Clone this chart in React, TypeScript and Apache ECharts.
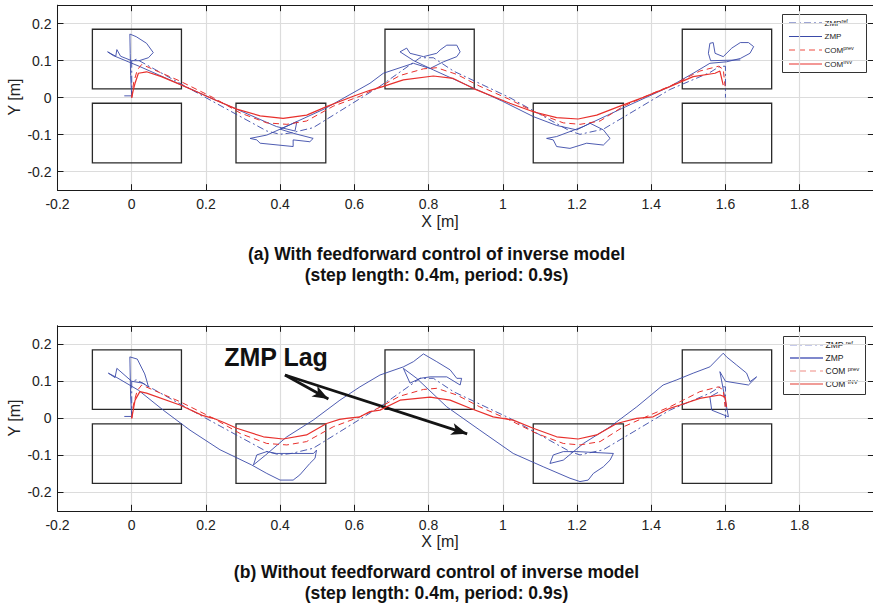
import React, { useEffect, useRef } from 'react';
import * as echarts from 'echarts';

const FONT = "'Liberation Sans', Arial, Helvetica, sans-serif";

// ---- axes ----
const X_MIN = -0.2;
const X_MAX = 2.0;
const X_STEP = 0.2;
const Y_MIN = -0.25;
const Y_MAX = 0.25;

// ---- foot rectangles [x1, x2] and y-bands ----
const footXs = [
  [-0.106, 0.134],
  [0.281, 0.523],
  [0.6825, 0.923],
  [1.082, 1.325],
  [1.4836, 1.7245],
];
const upperBand = [0.024, 0.185];
const lowerBand = [-0.176, -0.015];
// which footprints exist: [footIndex, band]
const footPrints: [number, 'u' | 'l'][] = [
  [0, 'u'], [0, 'l'], [1, 'l'], [2, 'u'], [3, 'l'], [4, 'u'], [4, 'l'],
];

// ---- shared reference trajectories ----
const zmpRef = [
  [0.0, 0.0], [0.0, 0.1], [0.013, 0.104], [0.2, 0.0], [0.364, -0.09], [0.4, -0.099],
  [0.43, -0.095], [0.489, -0.081], [0.669, 0.031], [0.777, 0.108], [0.813, 0.108],
  [0.867, 0.072], [1.019, 0.0], [1.181, -0.09], [1.208, -0.099], [1.271, -0.085],
  [1.45, 0.022], [1.558, 0.068], [1.585, 0.085], [1.6, 0.085], [1.6, 0.0],
];

const comPrev = [
  [0.0, 0.0], [0.005, 0.04], [0.015, 0.075], [0.027, 0.09], [0.13, 0.045], [0.22, 0.0],
  [0.292, -0.041], [0.364, -0.068], [0.418, -0.072], [0.471, -0.063], [0.543, -0.023],
  [0.615, 0.004], [0.669, 0.03], [0.723, 0.06], [0.786, 0.078], [0.822, 0.081],
  [0.876, 0.063], [0.938, 0.031], [1.019, -0.005], [1.091, -0.041], [1.163, -0.068],
  [1.208, -0.072], [1.262, -0.063], [1.325, -0.023], [1.397, 0.009], [1.45, 0.031],
  [1.478, 0.045], [1.531, 0.072], [1.581, 0.085], [1.594, 0.077], [1.599, 0.031],
];

// ---- (a) with feedforward ----
const comInvA = [
  [0.0, 0.0], [0.004, 0.02], [0.009, 0.039], [0.018, 0.066], [0.04, 0.07], [0.08, 0.057],
  [0.13, 0.036], [0.18, 0.014], [0.22, -0.004], [0.283, -0.031], [0.346, -0.049],
  [0.408, -0.056], [0.4715, -0.047], [0.525, -0.024], [0.597, 0.004], [0.642, 0.02],
  [0.67, 0.028], [0.732, 0.048], [0.8127, 0.0586], [0.8666, 0.052], [0.9296, 0.021],
  [1.019, -0.015], [1.082, -0.038], [1.145, -0.054], [1.203, -0.0576], [1.253, -0.047],
  [1.307, -0.026], [1.3786, 0.001], [1.45, 0.03], [1.513, 0.057], [1.572, 0.066],
  [1.585, 0.072], [1.594, 0.034],
];

const zmpA = [
  [-0.02, 0.005], [0.0, 0.005], [-0.003, 0.06], [-0.004, 0.12], [-0.005, 0.172],
  [0.012, 0.165], [0.04, 0.147], [0.058, 0.122], [0.045, 0.108], [0.02, 0.1], [0.0, 0.1],
  [-0.03, 0.112], [-0.04, 0.13], [-0.043, 0.112], [-0.065, 0.124], [-0.05, 0.114],
  [0.02, 0.085], [0.2, 0.005], [0.39, -0.078], [0.44, -0.09], [0.445, -0.065],
  [0.364, -0.101], [0.319, -0.11], [0.337, -0.114], [0.346, -0.123], [0.435, -0.132],
  [0.435, -0.114], [0.48, -0.119], [0.489, -0.11], [0.435, -0.096], [0.4, -0.085],
  [0.52, -0.03], [0.642, 0.039], [0.678, 0.066], [0.759, 0.093], [0.804, 0.079],
  [0.84, 0.097], [0.876, 0.111], [0.885, 0.124], [0.876, 0.142], [0.849, 0.142],
  [0.831, 0.129], [0.822, 0.12], [0.786, 0.111], [0.75, 0.12], [0.741, 0.134],
  [0.723, 0.124], [0.76, 0.1], [0.813, 0.075], [1.0, -0.01], [1.082, -0.051],
  [1.145, -0.075], [1.199, -0.087], [1.235, -0.069], [1.271, -0.087], [1.289, -0.11],
  [1.271, -0.128], [1.226, -0.123], [1.181, -0.137], [1.145, -0.132], [1.136, -0.114],
  [1.118, -0.11], [1.145, -0.105], [1.217, -0.078], [1.33, -0.025], [1.45, 0.03],
  [1.513, 0.066], [1.558, 0.093], [1.603, 0.097], [1.64, 0.106], [1.666, 0.12],
  [1.676, 0.138], [1.662, 0.149], [1.64, 0.149], [1.617, 0.134], [1.594, 0.111],
  [1.572, 0.12], [1.567, 0.149], [1.558, 0.147], [1.554, 0.12], [1.56, 0.1], [1.64, 0.102],
];

// ---- (b) without feedforward ----
const comInvB = [
  [0.0, 0.0], [0.009, 0.049], [0.022, 0.072], [0.04, 0.068], [0.13, 0.036], [0.19, 0.008],
  [0.22, 0.0], [0.25, -0.012], [0.283, -0.027], [0.355, -0.05], [0.408, -0.056],
  [0.471, -0.045], [0.525, -0.014], [0.56, -0.003], [0.579, 0.0], [0.615, 0.004],
  [0.642, 0.018], [0.669, 0.022], [0.723, 0.049], [0.804, 0.057], [0.858, 0.049],
  [0.912, 0.027], [0.974, 0.004], [1.028, -0.005], [1.082, -0.027], [1.145, -0.05],
  [1.203, -0.056], [1.253, -0.045], [1.307, -0.014], [1.361, 0.0], [1.405, 0.004],
  [1.45, 0.027], [1.478, 0.036], [1.531, 0.054], [1.585, 0.063], [1.599, 0.058],
  [1.603, 0.031],
];

const zmpB = [
  [-0.02, 0.005], [0.0, 0.005], [-0.003, 0.06], [-0.005, 0.166], [0.015, 0.16],
  [0.035, 0.12], [0.04, 0.1035], [0.045, 0.085], [0.03, 0.095], [0.0, 0.1], [-0.04, 0.135],
  [-0.045, 0.11], [-0.063, 0.122], [-0.04, 0.11], [0.018, 0.076], [0.085, 0.022],
  [0.157, -0.032], [0.238, -0.085], [0.323, -0.126], [0.364, -0.149], [0.4, -0.167],
  [0.435, -0.167], [0.453, -0.153], [0.48, -0.122], [0.494, -0.108], [0.498, -0.086],
  [0.49, -0.095], [0.39, -0.095], [0.364, -0.09], [0.337, -0.099], [0.328, -0.126],
  [0.36, -0.1], [0.418, -0.05], [0.489, -0.005], [0.561, 0.049], [0.615, 0.085],
  [0.669, 0.117], [0.732, 0.139], [0.759, 0.153], [0.786, 0.174], [0.822, 0.153],
  [0.858, 0.131], [0.876, 0.108], [0.889, 0.108], [0.885, 0.09], [0.849, 0.112],
  [0.804, 0.112], [0.777, 0.108], [0.75, 0.095], [0.732, 0.135], [0.768, 0.108],
  [0.849, 0.031], [0.938, -0.032], [1.028, -0.095], [1.109, -0.131], [1.181, -0.162],
  [1.208, -0.171], [1.23, -0.167], [1.244, -0.149], [1.271, -0.131], [1.289, -0.113],
  [1.298, -0.095], [1.2, -0.09], [1.163, -0.09], [1.136, -0.099], [1.127, -0.122],
  [1.163, -0.113], [1.217, -0.068], [1.289, -0.023], [1.361, 0.031], [1.432, 0.09],
  [1.469, 0.104], [1.513, 0.122], [1.558, 0.139], [1.594, 0.176], [1.603, 0.166],
  [1.63, 0.144], [1.657, 0.122], [1.666, 0.099], [1.684, 0.112], [1.662, 0.09],
  [1.6, 0.1], [1.585, 0.126], [1.608, 0.004], [1.563, 0.022], [1.558, 0.058], [1.58, 0.07],
];

// ---- annotation arrows (data coords, panel b) ----
const lagArrows = [
  [[0.413, 0.117], [0.53, 0.052]],
  [[0.413, 0.117], [0.904, -0.042]],
];

const legendLabelsA = ['ZMP{s|ref}', 'ZMP', 'COM{s|prev}', 'COM{s|INV}'];
const legendLabelsB = ['ZMP {s|ref}', 'ZMP', 'COM {s|prev}', 'COM {s|INV}'];

const titlesA = ['(a) With feedforward control of inverse model', '(step length: 0.4m, period: 0.9s)'];
const titlesB = ['(b) Without feedforward control of inverse model', '(step length: 0.4m, period: 0.9s)'];

const BLUE = '#3a4aa8';
const RED = '#e8302c';
const DASHDOT = [7, 3, 2, 3];
const DASH = [6, 4];

const grids = [
  { left: 57.5, top: 5.2, width: 816.4, height: 185 },
  { left: 57.5, top: 325.8, width: 816.4, height: 185 },
];

function xAxes(gi: number) {
  const base = {
    type: 'value', gridIndex: gi, min: X_MIN, max: X_MAX, interval: X_STEP,
    axisLine: { show: true, onZero: false, lineStyle: { color: '#1a1a1a', width: 1 } },
    axisTick: { show: true, inside: true, length: 6, lineStyle: { color: '#1a1a1a', width: 1 } },
  };
  return [
    {
      ...base, position: 'bottom',
      axisLabel: {
        show: true, color: '#222', fontSize: 14, fontFamily: FONT, margin: 7,
        showMaxLabel: false,
        formatter: (v: number) => (v > 1.9 ? '' : String(Math.round(v * 10) / 10)),
      },
      splitLine: { show: true, lineStyle: { color: '#dcdcdc', width: 1.2 } },
    },
    { ...base, position: 'top', axisLabel: { show: false }, splitLine: { show: false } },
  ];
}

function yAxes(gi: number) {
  const base = {
    type: 'value', gridIndex: gi, min: Y_MIN, max: Y_MAX, splitNumber: 5,
    axisLine: { show: true, onZero: false, lineStyle: { color: '#1a1a1a', width: 1 } },
    axisTick: { show: true, inside: true, length: 6, lineStyle: { color: '#1a1a1a', width: 1 } },
  };
  return [
    {
      ...base, position: 'left',
      axisLabel: {
        show: true, color: '#222', fontSize: 14, fontFamily: FONT, margin: 6,
        showMinLabel: false, showMaxLabel: false,
        formatter: (v: number) => (Math.abs(v) > 0.21 ? '' : String(Math.round(v * 10) / 10)),
      },
      splitLine: { show: true, lineStyle: { color: '#dcdcdc', width: 1.2 } },
    },
    { ...base, position: 'right', axisLabel: { show: false }, splitLine: { show: false } },
  ];
}

function line(name: string, data: number[][], gi: number, color: string, width: number, type: any, z: number) {
  return {
    name, type: 'line', xAxisIndex: gi * 2, yAxisIndex: gi * 2, data,
    showSymbol: false, symbol: 'none', smooth: false, clip: true, silent: true,
    lineStyle: { color, width, type }, itemStyle: { color }, z,
  };
}

function footAreas() {
  return footPrints.map(([fi, band]) => {
    const [x1, x2] = footXs[fi];
    const [y1, y2] = band === 'u' ? upperBand : lowerBand;
    return [{ coord: [x1, y1] }, { coord: [x2, y2] }];
  });
}

function panelSeries(gi: number, prefix: string, zmp: number[][], comInv: number[][]) {
  const s: any[] = [
    line(prefix + ' ZMP ref', zmpRef, gi, BLUE, 0.9, DASHDOT, 3),
    line(prefix + ' ZMP', zmp, gi, BLUE, 0.9, 'solid', 4),
    line(prefix + ' COM prev', comPrev, gi, RED, 1, DASH, 5),
    line(prefix + ' COM INV', comInv, gi, RED, 1.2, 'solid', 6),
  ];
  s[3].markArea = {
    silent: true,
    label: { show: false },
    itemStyle: { color: 'rgba(0,0,0,0)', borderColor: '#2a2a2a', borderWidth: 1.3 },
    data: footAreas(),
  };
  return s;
}

// legend drawn as a graphic group so that line styles and superscripts match
function legendGroup(labels: string[], box: number[], rows: number[], fontSize: number, light: boolean) {
  const styles = light
    ? [
        { stroke: '#8d95d6', lineWidth: 1.2, lineDash: DASHDOT },
        { stroke: '#7f88cc', lineWidth: 2, lineDash: null },
        { stroke: '#f08c84', lineWidth: 1.2, lineDash: DASH },
        { stroke: '#e23a30', lineWidth: 1.2, lineDash: null },
      ]
    : [
        { stroke: BLUE, lineWidth: 1, lineDash: DASHDOT },
        { stroke: BLUE, lineWidth: 1, lineDash: null },
        { stroke: '#ee4a40', lineWidth: 1, lineDash: DASH },
        { stroke: RED, lineWidth: 1.2, lineDash: null },
      ];
  const [bx, by, bw, bh] = box;
  const children: any[] = [
    {
      type: 'rect', shape: { x: bx, y: by, width: bw, height: bh },
      style: { fill: '#fff', stroke: '#333', lineWidth: 1 },
    },
  ];
  rows.forEach((ry, i) => {
    children.push({
      type: 'line', shape: { x1: bx + 6.5, y1: ry, x2: bx + 39.5, y2: ry },
      style: { ...styles[i], fill: null },
    });
    children.push({
      type: 'text', x: bx + 42, y: ry,
      style: {
        text: labels[i], fontSize, fontFamily: FONT, fill: '#222', verticalAlign: 'middle', align: 'left',
        rich: { s: { fontSize: fontSize - 2.5, fill: '#222', fontFamily: FONT, verticalAlign: 'top', padding: [0, 0, 5, 0] } },
      },
    });
  });
  return { type: 'group', z: 100, silent: true, children };
}

function title(lines: string[], top: number) {
  return {
    text: lines.join('\n'), left: 'center', top, padding: 0,
    textStyle: { fontSize: 17.5, fontWeight: 'bold', color: '#111', fontFamily: FONT, lineHeight: 21 },
  };
}

function axisName(text: string, x: number, y: number, rotate = 0) {
  return {
    type: 'text', x, y, rotation: rotate, silent: true,
    style: { text, fontSize: 16, fontFamily: FONT, fill: '#222', align: 'center', verticalAlign: 'middle' },
  };
}

export default function App() {
  const ref = useRef<HTMLDivElement>(null);
  useEffect(() => {
    if (!ref.current) return;
    const chart = echarts.init(ref.current, undefined, { renderer: 'svg' });
    const series: any[] = [
      ...panelSeries(0, '(a)', zmpA, comInvA),
      ...panelSeries(1, '(b)', zmpB, comInvB),
    ];
    // ZMP lag arrows on panel b
    series[7].markLine = {
      silent: true,
      symbol: ['none', 'arrow'],
      symbolSize: [9, 16],
      label: { show: false },
      lineStyle: { color: '#141414', width: 2.8, type: 'solid' },
      data: lagArrows.map(([a, b]) => [{ coord: a }, { coord: b }]),
    };
    chart.setOption({
      animation: false,
      backgroundColor: '#fff',
      title: [title(titlesA, 243), title(titlesB, 561)],
      grid: grids.map((g) => ({ ...g, containLabel: false, outerBoundsMode: 'none' })),
      xAxis: [...xAxes(0), ...xAxes(1)],
      yAxis: [...yAxes(0), ...yAxes(1)],
      series,
      graphic: [
        axisName('X [m]', 440, 221),
        axisName('X [m]', 440, 541),
        axisName('Y [m]', 14, 97, Math.PI / 2),
        axisName('Y [m]', 14, 418, Math.PI / 2),
        {
          type: 'text', x: 276, y: 357, silent: true,
          style: { text: 'ZMP Lag', fontSize: 25, fontWeight: 'bold', fontFamily: FONT, fill: '#111', align: 'center', verticalAlign: 'middle' },
        },
        legendGroup(legendLabelsA, [782.5, 14.5, 84, 58], [23, 36.5, 50, 64], 8, false),
        legendGroup(legendLabelsB, [783.5, 336.5, 82, 58], [345, 358, 371, 384], 8.5, true),
      ],
    });
    return () => chart.dispose();
  }, []);
  return <div ref={ref} style={{ position: 'absolute', left: 0, top: 0, width: 873, height: 603 }} />;
}
